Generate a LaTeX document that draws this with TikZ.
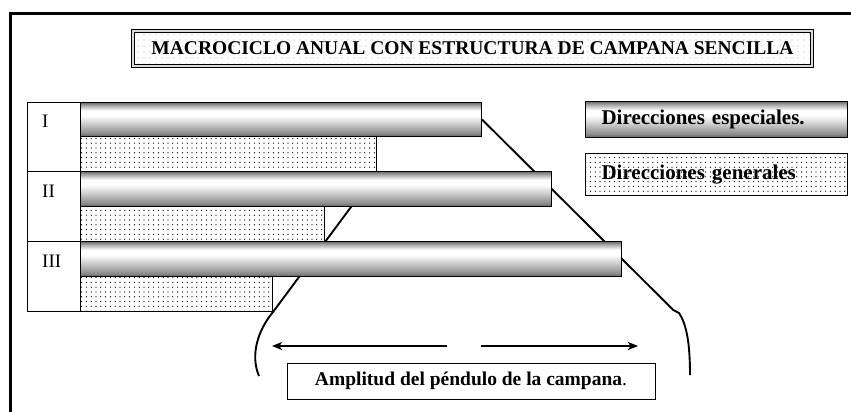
\documentclass[tikz,border=0pt]{standalone}
\usepackage{fontspec}
\setmainfont{Liberation Serif}
\usetikzlibrary{patterns.meta,arrows.meta,calc,backgrounds}
\pgfdeclareverticalshading{cylbar}{100bp}{color(0bp)=(black!62); color(25bp)=(black!62); color(30bp)=(black!45); color(45bp)=(black!18); color(56bp)=(white); color(63bp)=(white); color(70bp)=(black!30); color(75bp)=(black!58); color(100bp)=(black!58)}
\begin{document}
\begin{tikzpicture}[x=1pt,y=-1pt,
  specbar/.style={draw, line width=1.1pt, shading=cylbar, rectangle, inner sep=0pt, anchor=north west},
  genbar/.style={draw, line width=1pt, preaction={fill=white}, pattern={Dots[radius=0.65pt,distance=4.8pt]}, pattern color=black, rectangle, inner sep=0pt, anchor=north west},
  cellbox/.style={draw, line width=0.9pt, rectangle, inner sep=0pt, anchor=north west, minimum width=53pt},
  numtxt/.style={anchor=west, inner sep=0pt, font=\fontsize{19}{22}\selectfont},
  btxt/.style={font=\fontsize{19.5}{23}\selectfont\bfseries},
  legtxt/.style={font=\fontsize{21}{24}\selectfont\bfseries},
  conn/.style={line width=1.9pt},
  arr/.style={line width=1.6pt, -{Stealth[length=10pt,width=8pt,inset=2.5pt]}}]
\useasboundingbox (0,0) rectangle (851,412);
% frame
\draw[line width=3pt] (10,412) -- (10,13.5) -- (851,13.5);
% title
\node[draw, line width=1pt, double=gray!30, double distance=1.2pt, preaction={fill=white}, pattern={Dots[radius=0.6pt,distance=6pt]}, pattern color=gray!60, minimum width=679pt, minimum height=35pt, inner sep=0pt, btxt] (title) at (472.5,48.5) {MACROCICLO ANUAL CON ESTRUCTURA DE CAMPANA SENCILLA};
% label cells
\node[cellbox, minimum height=69pt] (c1) at (27,102) {};
\node[cellbox, minimum height=70pt] (c2) at (27,171) {};
\node[cellbox, minimum height=70pt] (c3) at (27,241) {};
\node[numtxt] (n1) at (42,121) {I};
\node[numtxt] (n2) at (42,191) {II};
\node[numtxt] (n3) at (42,261) {III};
% bars
\node[specbar, minimum width=401pt, minimum height=34pt] (s1) at (80,102) {};
\node[genbar, minimum width=296pt, minimum height=35pt] (g1) at (80,136) {};
\node[specbar, minimum width=471pt, minimum height=35pt] (s2) at (80,171) {};
\node[genbar, minimum width=244pt, minimum height=35pt] (g2) at (80,206) {};
\node[specbar, minimum width=541pt, minimum height=35pt] (s3) at (80,241) {};
\node[genbar, minimum width=192pt, minimum height=35pt] (g3) at (80,276) {};
% legend
\node[specbar, minimum width=262pt, minimum height=36pt, text width=230pt, inner xsep=16pt, align=left, legtxt] (ls) at (585,101) {Direcciones especiales.};
\node[genbar, minimum width=262pt, minimum height=42pt, text width=230pt, inner xsep=16pt, align=left, legtxt] (lg) at (585,153) {Direcciones generales};
% bell lines
\coordinate (rk) at ($(s1.east)!1.365!(s3.east)$);
\coordinate (rk2) at (679,313);
\coordinate (re) at (690,375);
\coordinate (le) at (259,376);
\begin{scope}[on background layer]
\draw[conn] (s1.east) -- (rk) -- (rk2) .. controls (687,325) and (690,345) .. (re);
\draw[conn] (g1.south east) -- (g3.south east) .. controls (258,330) and (250,355) .. (le);
\end{scope}
% arrows
\coordinate (a1s) at (447,346);
\coordinate (a1e) at (272,346);
\coordinate (a2s) at (481,346);
\coordinate (a2e) at (638,346);
\draw[arr] (a1s) -- (a1e);
\draw[arr] (a2s) -- (a2e);
% bottom box
\node[draw, line width=1pt, minimum width=368pt, minimum height=36pt, inner sep=0pt, font=\fontsize{19.5}{23}\selectfont] (amp) at (471,381) {\textbf{Amplitud del péndulo de la campana}.};
\end{tikzpicture}
\end{document}
